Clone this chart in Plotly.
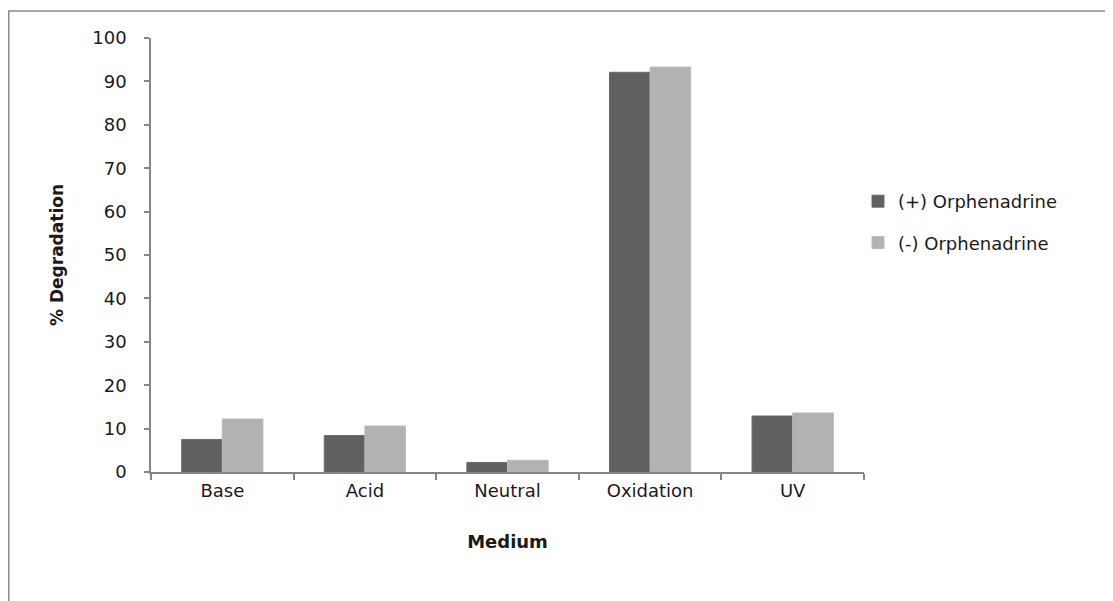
import plotly.graph_objects as go

categories = ["Base", "Acid", "Neutral", "Oxidation", "UV"]
plus_values = [7.5, 8.4, 2.2, 92.1, 12.9]
minus_values = [12.2, 10.6, 2.7, 93.3, 13.6]
series_names = ["(+) Orphenadrine", "(-) Orphenadrine"]
y_ticks = list(range(0, 101, 10))

W, H = 1113, 601
OFF = 8  # page body margin
L, T = 151 - OFF, 38 - OFF
PR, PB = 864 - OFF, 472 - OFF
R, B = W - PR, H - PB
pw, ph = PR - L, PB - T

FONT = "'DejaVu Sans', sans-serif"

fig = go.Figure()
fig.add_bar(x=categories, y=plus_values, name=series_names[0],
            marker=dict(color="#606060", line=dict(color="#6c6c6c", width=1)),
            legendgroup="a")
fig.add_bar(x=categories, y=minus_values, name=series_names[1],
            marker=dict(color="#b2b2b2", line=dict(color="#bababa", width=1)),
            legendgroup="b")

def px_x(p):
    return (p - OFF - L) / pw

def px_y(p):
    return (PB - (p - OFF)) / ph

fig.add_shape(type="rect", xref="paper", yref="paper",
              x0=px_x(8.75), x1=px_x(1130), y0=px_y(11), y1=px_y(603),
              line=dict(color="#8c8c8c", width=1.5), fillcolor="rgba(0,0,0,0)", layer="below")

fig.update_layout(
    width=W, height=H,
    margin=dict(l=L, r=R, t=T, b=B),
    paper_bgcolor="white", plot_bgcolor="white",
    barmode="group", bargap=0.43, bargroupgap=0,
    font=dict(family=FONT, size=18, color="#1a1a1a"),
    legend=dict(x=px_x(858), y=px_y(222), xanchor="left", yanchor="middle",
                font=dict(size=18), tracegroupgap=15, traceorder="grouped",
                itemwidth=30, bgcolor="rgba(0,0,0,0)"),
    xaxis=dict(
        type="category", showline=True, linecolor="#868686", linewidth=1.5,
        ticks="outside", tickson="boundaries", ticklen=6, tickcolor="#868686",
        tickwidth=1.5, ticklabelstandoff=2,
        title=dict(text="<b>Medium</b>", font=dict(size=18), standoff=35),
    ),
    yaxis=dict(
        range=[0, 100], tickvals=y_ticks, showgrid=False, zeroline=False,
        showline=True, linecolor="#868686", linewidth=1.5,
        ticks="outside", ticklen=5, tickcolor="#868686", tickwidth=1.5,
        ticklabelstandoff=14,
        title=dict(text="<b>% Degradation</b>", font=dict(size=17), standoff=24),
    ),
)

fig.write_html("out.html")
